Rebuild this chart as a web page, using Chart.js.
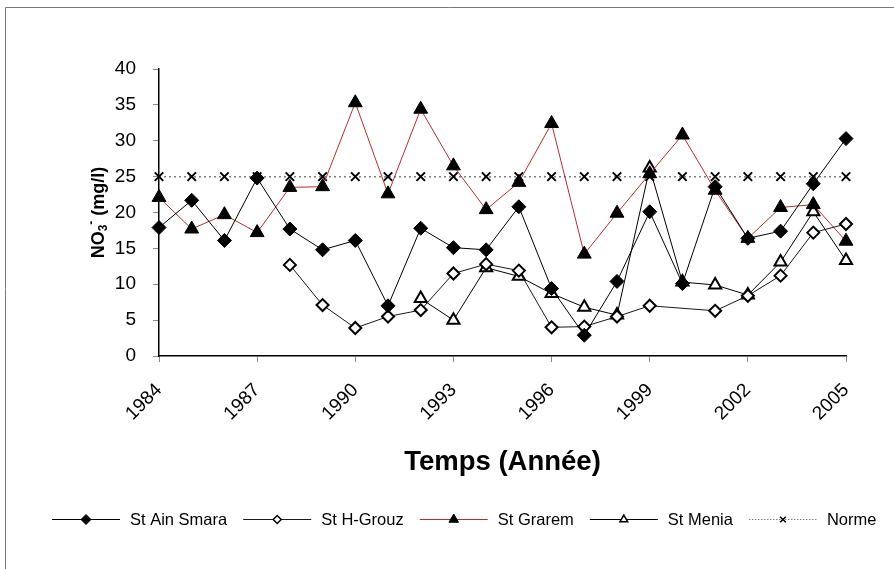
<!DOCTYPE html>
<html>
<head>
<meta charset="utf-8">
<script src="https://cdn.jsdelivr.net/npm/chart.js@4/dist/chart.umd.min.js"></script>
<style>
  html, body { margin: 0; padding: 0; background: #fff; }
  #wrap { position: relative; width: 894px; height: 569px; }
</style>
</head>
<body>
<div id="wrap"><canvas id="chart" width="894" height="569"></canvas></div>
<script>
// Nitrate (NO3-) concentrations per station, 1984-2005 (mg/l)
const years = [1984, 1985, 1986, 1987, 1988, 1989, 1990, 1991, 1992, 1993, 1994,
               1995, 1996, 1997, 1998, 1999, 2000, 2001, 2002, 2003, 2004, 2005];

const ainSmara = [17.9, 21.7, 16.1, 24.8, 17.7, 14.8, 16.1, 7.0, 17.8, 15.1, 14.8,
                  20.8, 9.4, 2.9, 10.4, 20.1, 10.1, 23.6, 16.4, 17.4, 24.0, 30.3];
const hGrouz   = [null, null, null, null, 12.7, 7.1, 3.9, 5.5, 6.4, 11.5, 12.8,
                  11.9, 4.0, 4.1, 5.5, 7.0, null, 6.3, 8.4, 11.2, 17.2, 18.4];
const grarem   = [22.1, 17.7, 19.7, 17.2, 23.5, 23.6, 35.3, 22.6, 34.4, 26.5, 20.4,
                  24.2, 32.4, 14.2, 19.9, 25.4, 30.8, 23.1, 16.4, 20.7, 21.1, 16.0];
const menia    = [null, null, null, null, null, null, null, null, 8.0, 5.0, 12.3,
                  11.1, 8.7, 6.8, 5.7, 26.2, 10.3, 9.9, 8.5, 13.1, 20.1, 13.3];
const norme    = [25, 25, 25, 25, 25, 25, 25, 25, 25, 25, 25,
                  25, 25, 25, 25, 25, 25, 25, 25, 25, 25, 25];

const yTicks = { min: 0, max: 40, step: 5 };
const xTicks = { min: 1984, max: 2005, step: 3 };

const FONT = "'Liberation Sans', Arial, sans-serif";
Chart.defaults.font.family = FONT;
Chart.defaults.color = '#000';

const toPoints = arr => years.map((yr, i) => ({ x: yr, y: arr[i] }));

const series = [
  { label: 'St Ain Smara', values: ainSmara, line: '#000000', dash: [], lw: 1,
    style: 'rectRot', r: 7, fill: '#000', bw: 1 },
  { label: 'St H-Grouz', values: hGrouz, line: '#1a1a1a', dash: [], lw: 1,
    style: 'rectRot', r: 6, fill: '#fff', bw: 2 },
  { label: 'St Grarem', values: grarem, line: '#b03030', dash: [], lw: 1,
    style: 'triangle', r: 8, fill: '#000', bw: 1 },
  { label: 'St Menia', values: menia, line: '#000000', dash: [], lw: 1,
    style: 'triangle', r: 7, fill: '#fff', bw: 2 },
  { label: 'Norme', values: norme, line: '#808080', dash: [2, 3], lw: 1.5,
    style: 'crossRot', r: 6, fill: '#000', bw: 2 }
];

const datasets = series.map(s => ({
  label: s.label,
  data: toPoints(s.values),
  borderColor: s.line,
  borderWidth: s.lw,
  borderDash: s.dash,
  pointStyle: s.style,
  pointRadius: s.r,
  pointHoverRadius: s.r,
  pointBackgroundColor: s.fill,
  pointBorderColor: '#000',
  pointBorderWidth: s.bw,
  pointHoverBorderWidth: s.bw,
  spanGaps: true,
  tension: 0,
  clip: false
}));

// Outer frame: only the left and top edges fall inside the page
const framePlugin = {
  id: 'frame',
  beforeDraw(chart) {
    const ctx = chart.ctx;
    ctx.save();
    ctx.strokeStyle = '#7a7a7a';
    ctx.lineWidth = 1;
    ctx.beginPath();
    ctx.moveTo(5.5, chart.height);
    ctx.lineTo(5.5, 7.5);
    ctx.lineTo(chart.width, 7.5);
    ctx.stroke();
    ctx.restore();
  }
};

// Vertical axis title with chemical sub/superscript
const yTitlePlugin = {
  id: 'yTitle',
  afterDraw(chart) {
    const ctx = chart.ctx;
    const area = chart.chartArea;
    const parts = [
      { t: 'NO', size: 18, dy: 0 },
      { t: '3', size: 12, dy: 5 },
      { t: '-', size: 12, dy: -7 },
      { t: ' (mg/l)', size: 18, dy: 0 }
    ];
    ctx.save();
    let total = 0;
    parts.forEach(p => {
      ctx.font = `bold ${p.size}px ${FONT}`;
      p.w = ctx.measureText(p.t).width;
      total += p.w;
    });
    ctx.translate(99, (area.top + area.bottom) / 2);
    ctx.rotate(-Math.PI / 2);
    ctx.fillStyle = '#000';
    ctx.textBaseline = 'middle';
    ctx.textAlign = 'left';
    let x = -total / 2;
    parts.forEach(p => {
      ctx.font = `bold ${p.size}px ${FONT}`;
      ctx.fillText(p.t, x, p.dy);
      x += p.w;
    });
    ctx.restore();
  }
};

function drawMarker(ctx, style, x, y, r, fill, bw) {
  ctx.save();
  ctx.lineWidth = bw;
  ctx.strokeStyle = '#000';
  ctx.fillStyle = fill;
  ctx.beginPath();
  if (style === 'rectRot') {
    ctx.moveTo(x - r, y); ctx.lineTo(x, y - r); ctx.lineTo(x + r, y); ctx.lineTo(x, y + r);
    ctx.closePath(); ctx.fill(); ctx.stroke();
  } else if (style === 'triangle') {
    const h = r * Math.sin(Math.PI / 3);
    ctx.moveTo(x, y - r); ctx.lineTo(x + h, y + r / 2); ctx.lineTo(x - h, y + r / 2);
    ctx.closePath(); ctx.fill(); ctx.stroke();
  } else {
    const d = r * Math.SQRT1_2;
    ctx.moveTo(x - d, y - d); ctx.lineTo(x + d, y + d);
    ctx.moveTo(x + d, y - d); ctx.lineTo(x - d, y + d);
    ctx.stroke();
  }
  ctx.restore();
}

// Legend row: line segment with its marker, then the series name
const legendPlugin = {
  id: 'lineLegend',
  afterDraw(chart) {
    const ctx = chart.ctx;
    const cy = 519;
    const lineLen = 68, textGap = 10, itemGap = 16;
    const legendMarks = [
      { r: 5, bw: 1 }, { r: 4, bw: 1.5 }, { r: 5.5, bw: 1 }, { r: 4.5, bw: 1.5 }, { r: 4, bw: 1.5 }
    ];
    ctx.save();
    ctx.font = `16.5px ${FONT}`;
    let x = 52;
    series.forEach((s, i) => {
      ctx.save();
      ctx.strokeStyle = s.line;
      ctx.lineWidth = 1;
      ctx.setLineDash(s.dash.length ? [1.5, 1.5] : []);
      ctx.beginPath();
      ctx.moveTo(x, cy + 0.5);
      ctx.lineTo(x + lineLen, cy + 0.5);
      ctx.stroke();
      ctx.restore();
      const m = legendMarks[i];
      drawMarker(ctx, s.style, x + lineLen / 2, cy + 0.5, m.r, s.fill, m.bw);
      ctx.fillStyle = '#000';
      ctx.textBaseline = 'middle';
      ctx.textAlign = 'left';
      const tx = x + lineLen + textGap;
      ctx.fillText(s.label, tx, cy + 1);
      x = tx + ctx.measureText(s.label).width + itemGap;
    });
    ctx.restore();
  }
};

new Chart(document.getElementById('chart'), {
  type: 'line',
  data: { datasets },
  options: {
    responsive: false,
    animation: false,
    events: [],
    layout: { padding: { left: 20, right: 48, top: 69, bottom: 84 } },
    plugins: {
      legend: { display: false },
      tooltip: { enabled: false },
      title: { display: false }
    },
    scales: {
      x: {
        type: 'linear',
        min: xTicks.min,
        max: xTicks.max,
        ticks: {
          stepSize: xTicks.step,
          callback: v => String(v),
          minRotation: 45,
          maxRotation: 45,
          font: { size: 19 },
          color: '#000',
          padding: 17
        },
        grid: { drawOnChartArea: false, drawTicks: true, tickLength: 6, color: '#8a8a8a' },
        border: { color: '#000', width: 1.5 },
        title: {
          display: true,
          text: 'Temps (Année)',
          font: { size: 27.5, weight: 'bold' },
          color: '#000',
          padding: { top: 0, bottom: 6 }
        },
        afterFit(scale) { scale.height = 129; }
      },
      y: {
        min: yTicks.min,
        max: yTicks.max,
        ticks: { stepSize: yTicks.step, font: { size: 19 }, color: '#000', padding: 17 },
        grid: { drawOnChartArea: false, drawTicks: true, tickLength: 6, color: '#8a8a8a' },
        border: { color: '#000', width: 1.5 },
        afterFit(scale) { scale.width = 139; }
      }
    }
  },
  plugins: [framePlugin, yTitlePlugin, legendPlugin]
});
</script>
</body>
</html>
